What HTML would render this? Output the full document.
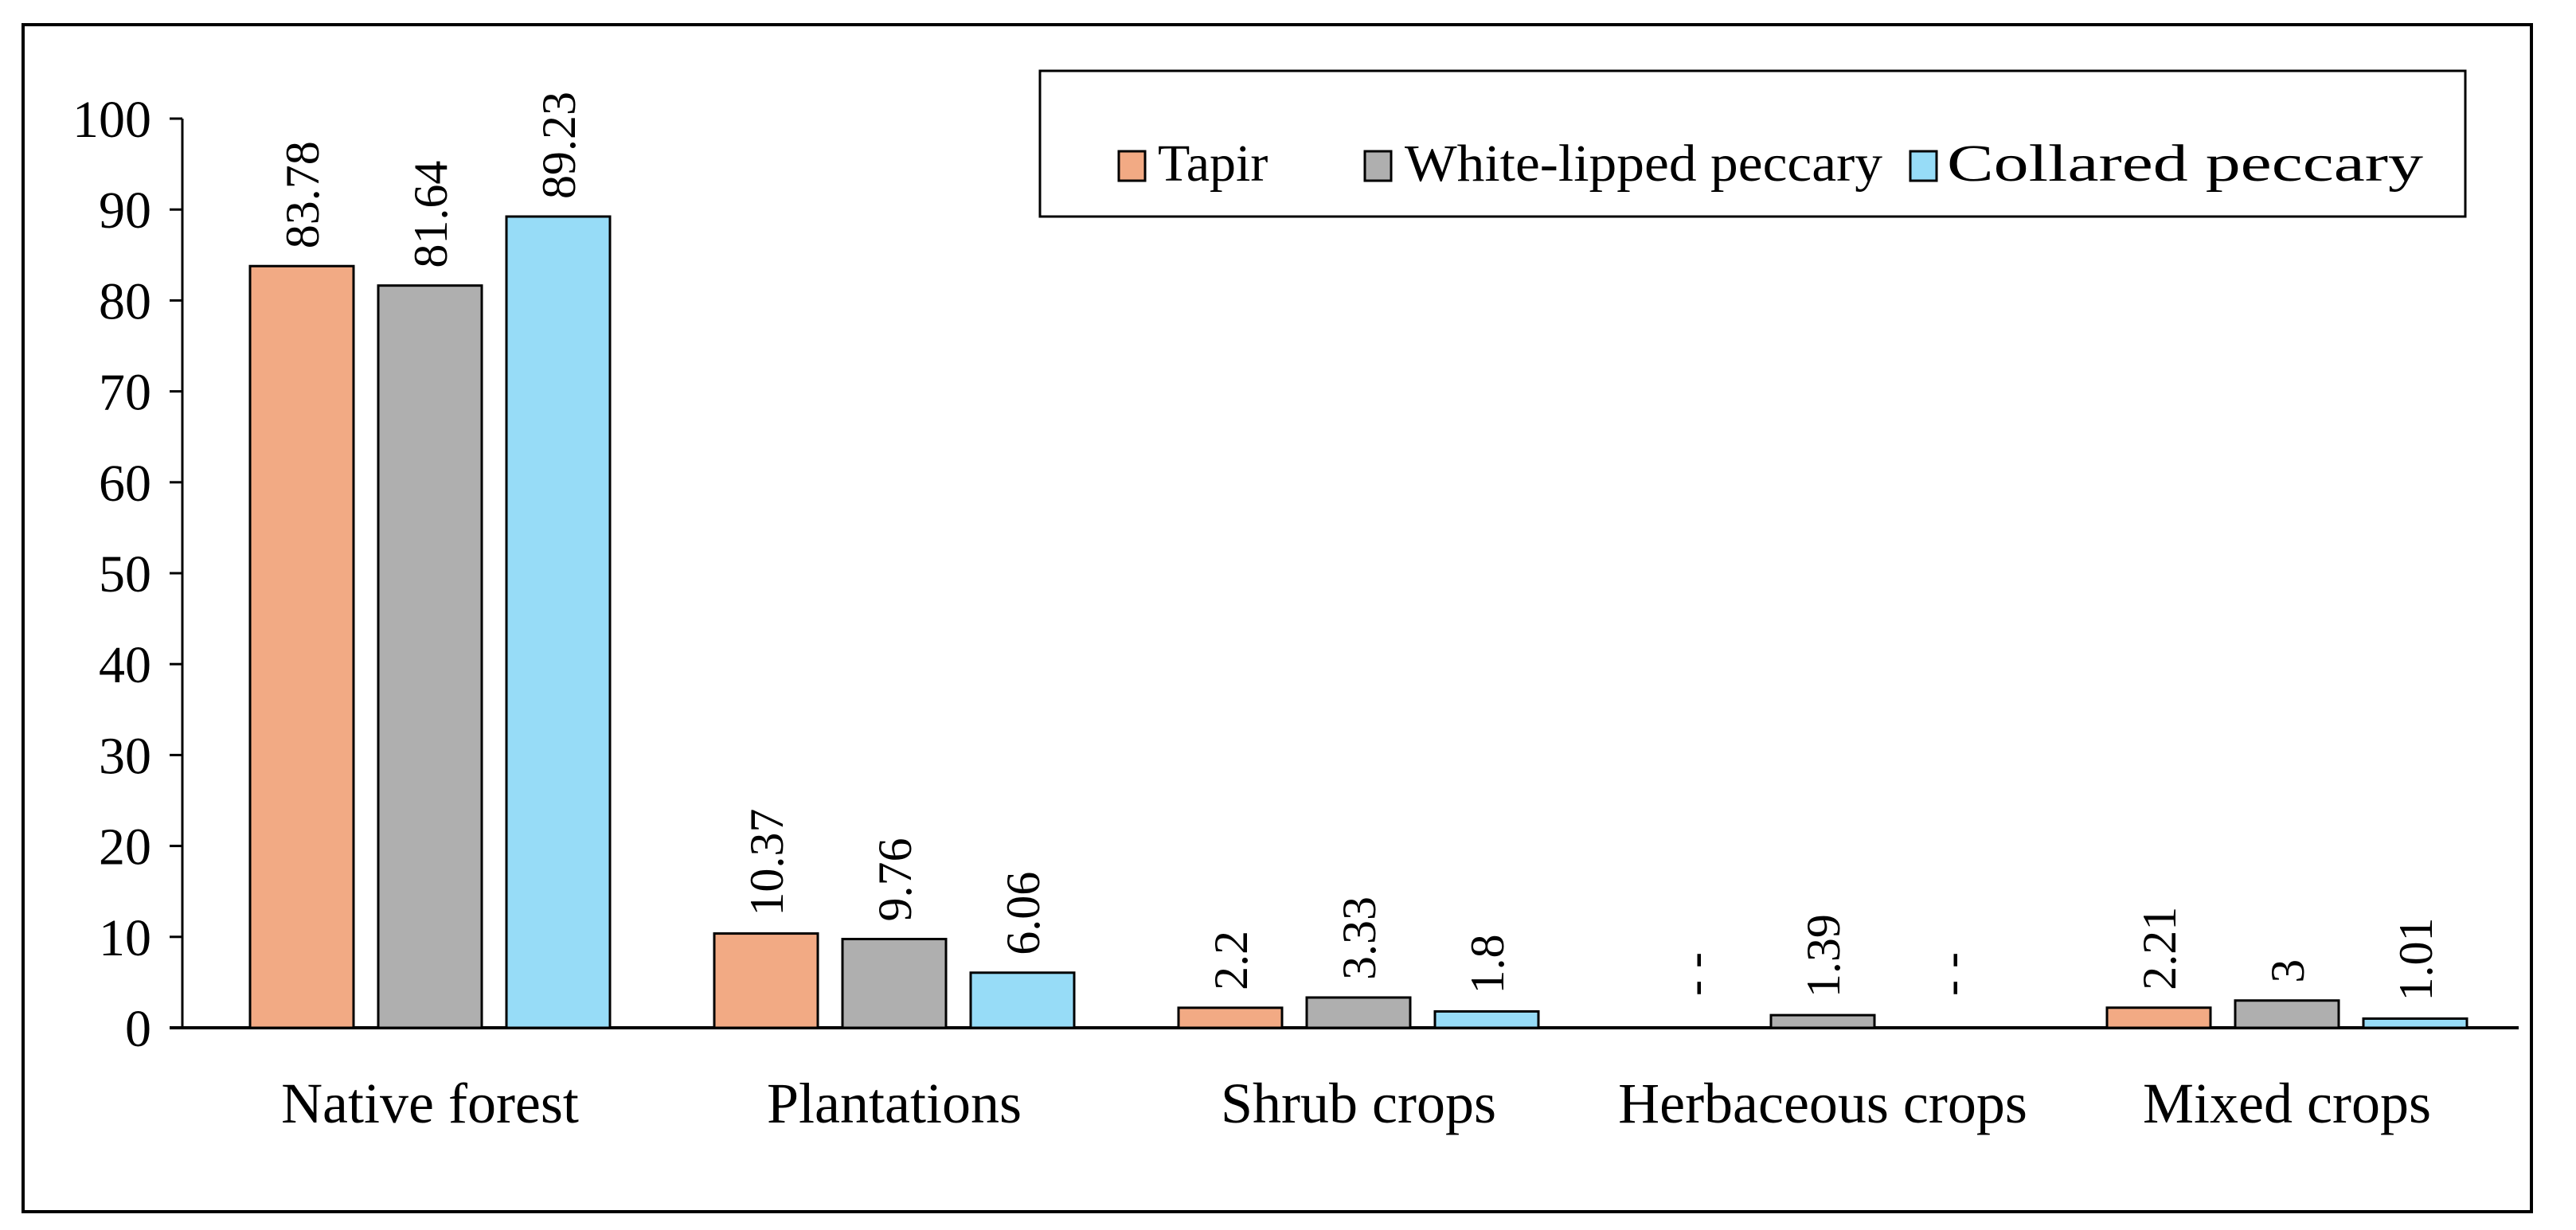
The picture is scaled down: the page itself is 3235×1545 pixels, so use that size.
<!DOCTYPE html>
<html><head><meta charset="utf-8"><style>
html,body{margin:0;padding:0;background:#fff;}
svg{display:block;font-family:"Liberation Serif",serif;}
</style></head><body>
<svg id="chart" width="3235" height="1545" viewBox="0 0 3235 1545" xmlns="http://www.w3.org/2000/svg">
<rect x="29" y="31" width="3150" height="1491" fill="#fff" stroke="#000" stroke-width="4"/>
<g id="axes"></g>
<g id="bars"></g>
<g id="legend">
  <rect x="1306" y="89" width="1790" height="183" fill="#fff" stroke="#000" stroke-width="3"/>
  <rect x="1405" y="190" width="33" height="37" fill="#F2AA84" stroke="#000" stroke-width="3"/>
  <text x="1454" y="227" font-size="66">Tapir</text>
  <rect x="1714" y="190" width="33" height="37" fill="#AFAFAF" stroke="#000" stroke-width="3"/>
  <text x="1764" y="227" font-size="66" textLength="600" lengthAdjust="spacingAndGlyphs">White-lipped peccary</text>
  <rect x="2399" y="190" width="33" height="37" fill="#97DCF7" stroke="#000" stroke-width="3"/>
  <text x="2445" y="227" font-size="66" textLength="598" lengthAdjust="spacingAndGlyphs">Collared peccary</text>
</g>
</svg>
<script>
const categories = ["Native forest","Plantations","Shrub crops","Herbaceous crops","Mixed crops"];
const seriesNames = ["Tapir","White-lipped peccary","Collared peccary"];
const tapir = [83.78, 10.37, 2.2, null, 2.21];
const whiteLipped = [81.64, 9.76, 3.33, 1.39, 3];
const collared = [89.23, 6.06, 1.8, null, 1.01];
const yTicks = [0,10,20,30,40,50,60,70,80,90,100];

const NS = "http://www.w3.org/2000/svg";
const series = [tapir, whiteLipped, collared];
const colors = ["#F2AA84","#AFAFAF","#97DCF7"];
const x0 = 229, x1 = 3163, yBase = 1291, yTop = 149;
function yScale(v){ return yBase - (v/100)*(yBase - yTop); }
function groupCenter(i){ return 540 + i*583; }
const barW = 130, barStep = 161;
function mk(tag, attrs, parent){ const e = document.createElementNS(NS, tag); for (const k in attrs) e.setAttribute(k, attrs[k]); parent.appendChild(e); return e; }

const axes = document.getElementById('axes');
const bars = document.getElementById('bars');

yTicks.forEach(t => {
  const y = yScale(t);
  const tk = mk('line', {x1: x0-16, x2: x0, y1: y, y2: y, stroke: '#000', 'stroke-width': 3}, axes);
  
  
  const lb = mk('text', {x: 190, y: y+23, 'font-size': 66, 'text-anchor': 'end'}, axes);
  lb.textContent = t;
  
  
});
const ya = mk('line', {x1: x0, x2: x0, y1: yTop, y2: yBase, stroke: '#000', 'stroke-width': 3}, axes);



categories.forEach((c, i) => {
  const cx = groupCenter(i);
  series.forEach((s, j) => {
    const v = s[i];
    const bx = cx + (j-1)*barStep;
    if (v === null) {
      const d = mk('text', {transform: `translate(${bx+20},${yBase-40}) rotate(-90)`, 'font-size': 60, 'text-anchor': 'start', 'textLength': 55}, bars);
      d.textContent = "--";
      
      
      return;
    }
    const y = yScale(v);
    const r = mk('rect', {x: bx - barW/2, y: y, width: barW, height: yBase - y, fill: colors[j], stroke: '#000', 'stroke-width': 3}, bars);
    
    
    const t = mk('text', {transform: `translate(${bx+21},${y-22}) rotate(-90)`, 'font-size': 60, 'text-anchor': 'start'}, bars);
    t.textContent = v;
    
    
  });
  const cl = mk('text', {x: cx, y: 1410, 'font-size': 72, 'text-anchor': 'middle'}, axes);
  cl.textContent = c;
  
  
});
const xa = mk('line', {x1: x0-16, x2: x1, y1: yBase, y2: yBase, stroke: '#000', 'stroke-width': 4}, axes);


</script>
</body></html>
